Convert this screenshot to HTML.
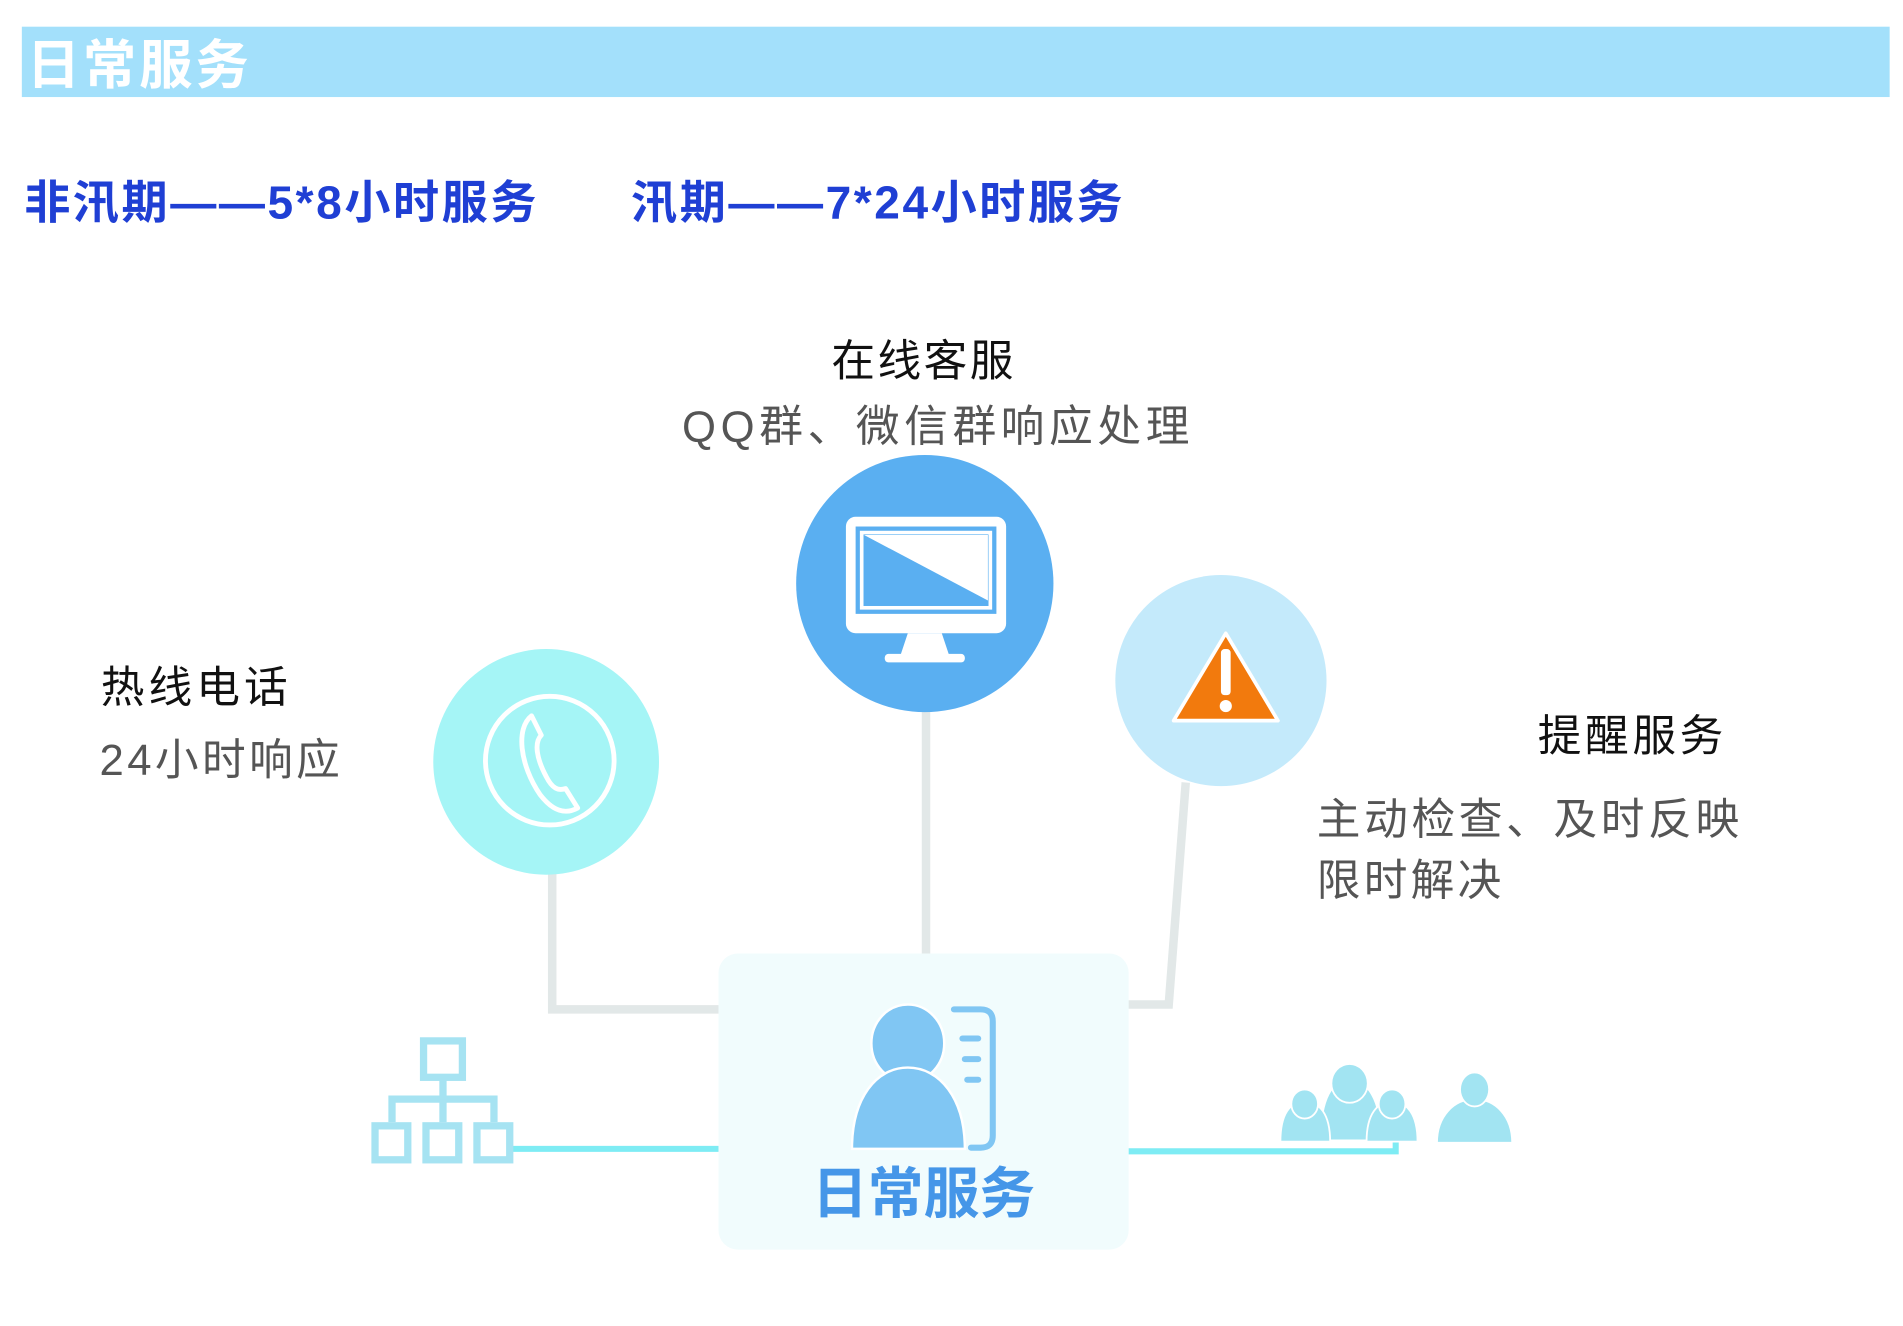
<!DOCTYPE html>
<html><head><meta charset="utf-8"><style>
html,body{margin:0;padding:0;background:#fff;}
svg{display:block;}
text{font-family:"Liberation Sans","Noto Sans CJK SC",sans-serif;}
</style></head><body>
<svg width="1903" height="1326" viewBox="0 0 1568 1093" preserveAspectRatio="none" xmlns="http://www.w3.org/2000/svg">
<rect x="18" y="22" width="1539" height="58" fill="#a3e0fb"/>
<text x="22" y="69" font-size="44" font-weight="bold" fill="#fff" textLength="183">日常服务</text>
<text x="20" y="180" font-size="38" font-weight="bold" fill="#1f3fd4" textLength="422">非汛期——5*8小时服务</text>
<text x="520" y="180" font-size="38" font-weight="bold" fill="#1f3fd4" textLength="405">汛期——7*24小时服务</text>
<text x="685" y="310" font-size="36" fill="#111" textLength="150">在线客服</text>
<text x="562" y="364" font-size="36" fill="#555" textLength="418">QQ群、微信群响应处理</text>
<text x="83" y="579" font-size="36" fill="#111" textLength="154">热线电话</text>
<text x="82" y="639" font-size="36" fill="#555" textLength="198">24小时响应</text>
<text x="1267" y="619" font-size="36" fill="#111" textLength="153">提醒服务</text>
<text x="1085" y="688" font-size="36" fill="#555" textLength="348">主动检查、及时反映</text>
<text x="1085" y="738" font-size="36" fill="#555" textLength="152">限时解决</text>
<g fill="none" stroke="#e2e8e8" stroke-width="7">
<polyline points="455,715 455,832 595,832"/>
<line x1="763" y1="585" x2="763" y2="788"/>
<polyline points="977,645 963,828 928,828"/>
</g>
<g fill="none" stroke="#7eecf4" stroke-width="5">
<line x1="420" y1="947" x2="595" y2="947"/>
<polyline points="928,949 1150,949 1150,940"/>
</g>
<circle cx="762" cy="481" r="106" fill="#5aaff1"/>
<circle cx="450" cy="628" r="93" fill="#a5f5f6"/>
<circle cx="1006" cy="561" r="87" fill="#c4eafb"/>
<rect x="697" y="426" width="132" height="96" rx="8" fill="#fff"/>
<rect x="705" y="434" width="116" height="72" fill="#5aaff1"/>
<rect x="710" y="439" width="106" height="62" fill="none" stroke="#fff" stroke-width="3"/>
<polygon points="712,441 814,495 814,441" fill="#fff"/>
<polygon points="748,522 776,522 782,540 742,540" fill="#fff"/>
<rect x="729" y="539" width="66" height="7" rx="3" fill="#fff"/>
<circle cx="453" cy="627" r="53" fill="none" stroke="#fff" stroke-width="4"/>
<path d="M438,590 C425,600 428,630 445,655 C455,668 465,672 476,666 L466,650 C460,652 455,650 450,640 C442,625 440,612 446,606 Z" fill="none" stroke="#fff" stroke-width="4" stroke-linejoin="round"/>
<path d="M1010,522 L1053,594 L967,594 Z" fill="#f27a0d" stroke="#fff" stroke-width="3" stroke-linejoin="round"/>
<rect x="1006" y="535" width="8" height="38" rx="3" fill="#fff"/>
<circle cx="1010" cy="582" r="5" fill="#fff"/>
<rect x="592" y="786" width="338" height="244" rx="16" fill="#f1fcfd"/>
<ellipse cx="748" cy="860" rx="30" ry="32" fill="#80c6f3" stroke="#fff" stroke-width="2"/>
<path d="M702,947 C702,905 722,880 748,880 C774,880 795,905 795,947 Z" fill="#80c6f3" stroke="#fff" stroke-width="2"/>
<path d="M786,832 L808,832 Q818,832 818,842 L818,936 Q818,946 808,946 L800,946" fill="none" stroke="#80c6f3" stroke-width="5" stroke-linecap="round"/>
<g stroke="#80c6f3" stroke-width="5" stroke-linecap="round"><line x1="793" y1="856" x2="806" y2="856"/><line x1="795" y1="873" x2="806" y2="873"/><line x1="797" y1="890" x2="806" y2="890"/></g>
<text x="761" y="1000" font-size="46" font-weight="bold" fill="#4596e8" text-anchor="middle">日常服务</text>
<g fill="none" stroke="#a6e3f2" stroke-width="6">
<rect x="349" y="858" width="32" height="30"/>
<polyline points="365,888 365,906 323,906 323,925"/>
<polyline points="365,906 407,906 407,925"/>
<line x1="365" y1="906" x2="365" y2="925"/>
<rect x="309" y="928" width="27" height="28"/><rect x="351" y="928" width="27" height="28"/><rect x="393" y="928" width="27" height="28"/>
</g>
<g fill="#a2e4f2" stroke="#fff" stroke-width="1.5">
<path d="M1088,940 C1088,905 1098,890 1112,890 C1126,890 1138,905 1138,940 Z"/>
<ellipse cx="1112" cy="893" rx="15" ry="16"/>
<path d="M1055,941 C1055,918 1063,908 1075,908 C1087,908 1096,918 1096,941 Z"/>
<ellipse cx="1075" cy="910" rx="11" ry="12"/>
<path d="M1126,941 C1126,918 1135,908 1147,908 C1159,908 1168,918 1168,941 Z"/>
<ellipse cx="1147" cy="910" rx="11" ry="12"/>
<path d="M1184,942 C1184,920 1198,906 1215,906 C1232,906 1246,920 1246,942 Z"/>
<ellipse cx="1215" cy="898" rx="12" ry="14"/>
</g>
</svg>
</body></html>
